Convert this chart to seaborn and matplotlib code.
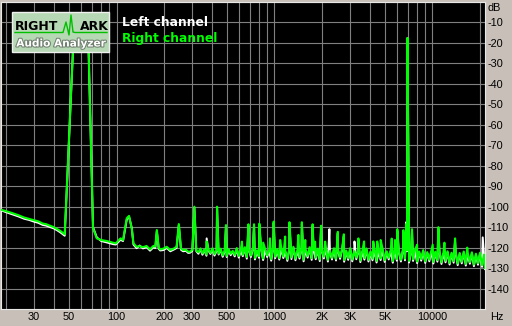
import numpy as np
import pandas as pd
import matplotlib
matplotlib.use("Agg")
import matplotlib.pyplot as plt
import matplotlib.patheffects as pe
from matplotlib.patches import Rectangle
from matplotlib.lines import Line2D
from matplotlib.ticker import FixedLocator, NullFormatter
import seaborn as sns

# ---------------- data ----------------
FLOOR_F = [
    18.6, 20, 22, 24, 26, 28, 30, 32, 34, 36,
    38, 40, 42, 44, 47, 54, 60, 66, 71, 75,
    80, 87, 95, 99, 103, 106, 110, 116, 120, 125,
    128, 134, 140, 147, 155, 163, 171, 176, 180, 185,
    189, 198, 208, 219, 230, 240, 248, 256, 264, 275,
    284, 292, 302, 311,
    320, 330, 340, 350, 360, 371, 382, 393, 405, 417,
    430, 443, 456, 470, 484, 498, 513, 528, 544, 560,
    577, 594, 612, 630, 649, 668, 688, 709, 730, 752,
    775, 798, 822, 847, 872, 898, 925, 953, 981, 1010,
    1040, 1072, 1104, 1137, 1171, 1206, 1242, 1280, 1318, 1357,
    1398, 1440, 1483, 1528, 1574, 1621, 1669, 1719, 1771, 1824,
    1879, 1935, 1993, 2053, 2115, 2178, 2243, 2311, 2380, 2451,
    2525, 2600, 2678, 2759, 2841, 2927, 3015, 3105, 3198, 3294,
    3393, 3495, 3600, 3708, 3819, 3933, 4051, 4173, 4298, 4427,
    4560, 4696, 4837, 4982, 5132, 5286, 5444, 5608, 5776, 5949,
    6127, 6311, 6500, 6695, 6896, 7103, 7316, 7536, 7762, 7995,
    8235, 8482, 8736, 8998, 9268, 9546, 9833, 10128, 10431, 10744,
    11067, 11399, 11741, 12093, 12456, 12829, 13214, 13611, 14019, 14440,
    14873, 15319, 15779, 16252, 16740, 17242, 17759, 18292, 18841, 19406,
    19988, 20588, 21206, 21500,
]

RIGHT_FLOOR = [
    -101.5, -102.2, -103.2, -104.2, -105.3, -106.0, -106.6, -107.2, -108.2, -108.6,
    -109.3, -110.0, -110.9, -111.8, -113.5, -10.0, -7.0, -12.0, -110.5, -115.5,
    -116.3, -116.8, -117.6, -117.9, -116.5, -115.5, -116.3, -105.7, -104.5, -111.0,
    -117.9, -119.6, -119.3, -119.8, -119.2, -120.9, -119.2, -119.5, -111.4, -120.0,
    -120.9, -120.5, -119.6, -121.2, -120.5, -119.6, -108.5, -120.5, -121.2, -121.0,
    -122.0, -122.0, -121.0, -100.0,
    -121.5, -122.3, -120.4, -122.8, -120.9, -123.4, -121.0, -122.6, -120.3, -123.2,
    -121.2, -122.9, -120.5, -123.8, -121.4, -124.0, -120.8, -123.0, -121.6, -123.6,
    -120.2, -124.1, -121.0, -123.5, -119.8, -124.6, -120.9, -123.9, -120.1, -125.0,
    -121.3, -124.2, -119.9, -125.3, -120.6, -123.8, -121.2, -125.6, -119.7, -124.4,
    -120.8, -125.1, -120.0, -124.3, -121.5, -125.7, -120.2, -124.8, -119.6, -125.4,
    -121.1, -124.6, -120.4, -125.9, -120.9, -124.1, -119.8, -125.2, -121.3, -124.9,
    -120.5, -125.8, -121.2, -124.5, -120.0, -126.0, -121.6, -125.0, -120.3, -125.5,
    -121.0, -124.7, -120.6, -126.1, -121.4, -125.2, -120.2, -125.9, -121.7, -124.9,
    -120.8, -126.3, -121.5, -125.1, -120.4, -126.0, -121.9, -125.4, -120.9, -126.5,
    -121.4, -125.3, -120.7, -126.2, -121.8, -125.0, -121.1, -126.6, -120.6, -125.6,
    -121.7, -126.0, -120.9, -125.4, -121.3, -126.5, -122.0, -125.7, -121.0, -126.8,
    -121.9, -125.6, -121.2, -126.7, -122.2, -125.9, -121.4, -127.0, -122.0, -126.1,
    -121.6, -127.2, -122.3, -126.4, -121.8, -127.5, -122.5, -126.6, -122.1, -127.8,
    -122.6, -126.9, -121.9, -128.0, -122.8, -127.1, -122.3, -128.3, -123.0, -127.6,
    -122.5, -128.6, -123.4, -130.0,
]

LEFT_FLOOR = [
    -101.8, -102.7, -103.8, -104.8, -105.9, -106.5, -107.3, -107.9, -108.9, -109.3,
    -110.0, -110.6, -111.5, -112.5, -114.2, -10.0, -7.0, -12.0, -110.0, -115.0,
    -116.8, -117.5, -118.3, -118.5, -117.2, -116.2, -116.8, -106.5, -104.8, -110.5,
    -118.5, -120.3, -119.0, -120.4, -119.8, -121.5, -119.9, -120.2, -112.0, -120.6,
    -121.4, -121.2, -120.2, -121.8, -121.0, -120.2, -109.0, -121.1, -121.8, -121.6,
    -122.6, -122.5, -121.6, -100.5,
    -121.8, -123.0, -120.9, -123.5, -121.2, -124.0, -121.5, -123.1, -120.8, -123.9,
    -121.6, -123.4, -121.0, -124.5, -121.9, -124.6, -121.2, -123.7, -122.0, -124.3,
    -120.8, -124.9, -121.5, -124.2, -120.3, -125.4, -121.3, -124.6, -120.6, -125.8,
    -121.8, -125.0, -120.4, -126.1, -121.0, -124.6, -121.7, -126.4, -120.2, -125.2,
    -121.3, -125.9, -120.5, -125.1, -122.0, -126.5, -120.7, -125.6, -120.1, -126.2,
    -121.6, -125.4, -120.9, -126.7, -121.4, -124.9, -120.3, -126.0, -121.8, -125.7,
    -121.0, -126.6, -121.7, -125.3, -120.5, -126.8, -122.1, -125.8, -120.8, -126.3,
    -121.5, -125.5, -121.1, -126.9, -121.9, -126.0, -120.7, -126.7, -122.2, -125.7,
    -121.3, -127.1, -122.0, -125.9, -120.9, -126.8, -122.4, -126.2, -121.4, -127.3,
    -121.9, -126.1, -121.2, -127.0, -122.3, -125.8, -121.6, -127.4, -121.1, -126.4,
    -122.2, -126.8, -121.4, -126.2, -121.8, -127.3, -122.5, -126.5, -121.5, -127.6,
    -122.4, -126.4, -121.7, -127.5, -122.7, -126.7, -121.9, -127.8, -122.5, -126.9,
    -122.1, -128.0, -122.8, -127.2, -122.3, -128.3, -123.0, -127.4, -122.6, -128.6,
    -123.1, -127.7, -122.4, -128.8, -123.3, -127.9, -122.8, -129.1, -123.5, -128.4,
    -123.0, -129.4, -123.9, -130.5,
]

RIGHT_SPIKE_F = [372, 433, 493, 622, 684, 742, 802, 848, 936, 988,
                 1086, 1168, 1244, 1416, 1490, 1566, 1742, 1808, 1972, 2092,
                 2516, 2748, 3396, 3690, 4220, 4470, 4700, 5520, 5790, 5990,
                 6540, 6830, 6940, 7100, 7420, 7990, 10030, 10900, 11900, 13900,
                 16600]
RIGHT_SPIKE_DB = [-117.0, -100.0, -109.0, -117.1, -108.6, -108.6, -108.3, -117.6, -115.5, -107.3,
                  -116.3, -114.6, -107.6, -113.8, -107.6, -116.3, -108.6, -117.1, -109.3, -117.1,
                  -112.3, -113.5, -115.5, -117.0, -117.0, -117.0, -116.3, -115.6, -116.3, -111.0,
                  -111.5, -108.4, -17.6, -108.7, -111.0, -118.6, -118.6, -110.0, -117.6, -115.5,
                  -120.0]

LEFT_SPIKE_F = [372, 433, 493, 684, 742, 802, 988, 1244, 1490, 1742,
                1972, 2226, 2516, 2748, 3208, 3396, 5990, 6540, 6830, 6940,
                7100, 7420, 10900, 13900, 20800]
LEFT_SPIKE_DB = [-115.5, -101.0, -110.0, -109.5, -109.0, -109.0, -108.0, -108.5, -108.5, -109.5,
                 -110.0, -111.0, -113.0, -114.5, -117.0, -116.5, -112.0, -112.5, -107.5, -17.6,
                 -109.5, -112.0, -111.0, -116.5, -115.0]

X_TICKS = [30, 50, 100, 200, 300, 500, 1000, 2000, 3000, 5000, 10000]
X_LABELS = ["30", "50", "100", "200", "300", "500", "1000", "2K", "3K", "5K", "10000"]
Y_TICKS = [-10, -20, -30, -40, -50, -60, -70, -80, -90, -100, -110, -120, -130, -140]

# ---------------- build tables ----------------
left = pd.DataFrame({"f": FLOOR_F + LEFT_SPIKE_F, "db": LEFT_FLOOR + LEFT_SPIKE_DB})
right = pd.DataFrame({"f": FLOOR_F + RIGHT_SPIKE_F, "db": RIGHT_FLOOR + RIGHT_SPIKE_DB})
left = left.sort_values("f")
right = right.sort_values("f")

W, H = 512, 326
BG = "#C8C0B8"
GREEN = "#00FF00"

fig = plt.figure(figsize=(W / 100, H / 100), dpi=100, facecolor=BG)
ax = fig.add_axes([1 / W, 1 - 309 / H, 484 / W, 307 / H])
ax.set_facecolor("black")

sns.lineplot(data=left, x="f", y="db", ax=ax, color="white", lw=1.4,
             estimator=None, sort=True, zorder=3)
sns.lineplot(data=right, x="f", y="db", ax=ax, color=GREEN, lw=1.5,
             estimator=None, sort=True, zorder=4)

ax.set_xscale("log")
ax.set_xlim(18.57, 21500)
ax.set_ylim(-150, 0)

# grid
minor = [m * 10 ** e for e in range(1, 5) for m in range(1, 10)]
minor = [v for v in minor if 19 < v < 21000]
ax.xaxis.set_major_locator(FixedLocator(X_TICKS))
ax.xaxis.set_minor_locator(FixedLocator(minor))
ax.xaxis.set_minor_formatter(NullFormatter())
ax.set_xticklabels(X_LABELS)
ax.set_yticks(Y_TICKS)
ax.set_yticklabels([str(v) for v in Y_TICKS])
ax.yaxis.set_minor_locator(FixedLocator([0]))
ax.grid(True, which="both", color="#808080", lw=0.8, zorder=1)
ax.set_axisbelow(True)
ax.yaxis.tick_right()
ax.tick_params(axis="both", which="both", length=0)
ax.tick_params(axis="y", pad=1.5, labelsize=7.8, labelcolor="black")
ax.tick_params(axis="x", pad=1.8, labelsize=7.8, labelcolor="black")
for lab in ax.get_xticklabels() + ax.get_yticklabels():
    lab.set_fontfamily("Liberation Sans")
ax.set_xlabel("")
ax.set_ylabel("")
for s in ax.spines.values():
    s.set_color("#E8E8E8")
    s.set_linewidth(0.8)

fig.text(487 / W, 1 - 8 / H, "dB", fontsize=7.8, family="Liberation Sans",
         ha="left", va="center", color="black")
fig.text(497 / W, 1 - 317 / H, "Hz", fontsize=7.8, family="Liberation Sans",
         ha="center", va="center", color="black")

# legend texts
fig.text(122.5 / W, 1 - 22.5 / H, "Left channel", fontsize=8.8, weight="bold",
         color="white", ha="left", va="center", family="DejaVu Sans")
fig.text(122.5 / W, 1 - 38.5 / H, "Right channel", fontsize=8.8, weight="bold",
         color=GREEN, ha="left", va="center", family="DejaVu Sans")

# logo
def fx(px):
    return px / W

def fy(py):
    return 1 - py / H

logo = Rectangle((fx(12), fy(52)), 97 / W, 40 / H, transform=fig.transFigure,
                 facecolor="#B6D8B4", edgecolor="#F0F0F0", lw=1.0, zorder=10)
fig.add_artist(logo)
lx = [15, 63, 66, 69, 71, 73, 75, 107]
ly = [32.5, 32.5, 22, 35, 15, 32, 32.5, 32.5]
fig.add_artist(Line2D([fx(v) for v in lx], [fy(v) for v in ly], transform=fig.transFigure,
                      color="#00C000", lw=1.0, zorder=11))
fig.text(fx(15), fy(26.5), "RIGHT", fontsize=9.0, weight="bold", color="black",
         ha="left", va="center", zorder=12)
fig.text(fx(80), fy(26.5), "ARK", fontsize=9.0, weight="bold", color="black",
         ha="left", va="center", zorder=12)
fig.text(fx(61), fy(43.5), "Audio Analyzer", fontsize=7.6, weight="bold", color="white",
         ha="center", va="center", zorder=12,
         path_effects=[pe.withStroke(linewidth=1.5, foreground="#708070")])

fig.savefig("out.png", dpi=100, facecolor=BG)
